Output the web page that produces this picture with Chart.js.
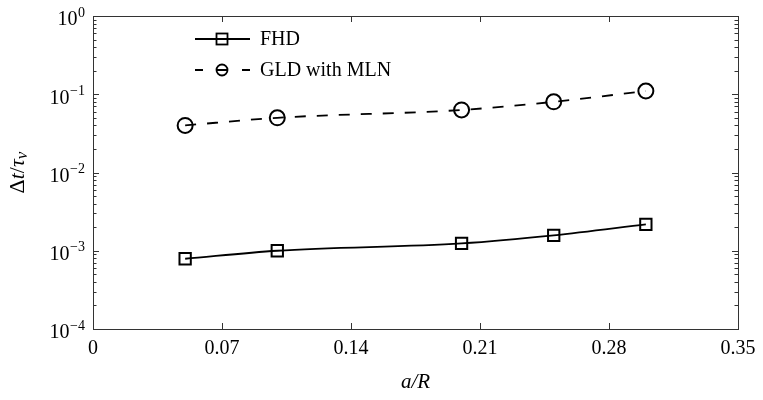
<!DOCTYPE html>
<html>
<head>
<meta charset="utf-8">
<script src="https://cdn.jsdelivr.net/npm/chart.js@4.4.1/dist/chart.umd.min.js"></script>
<style>
    html, body { margin: 0; padding: 0; background: #fff; }
    #wrap { width: 763px; height: 400px; position: relative; }
</style>
</head>
<body>
<div id="wrap"><canvas id="chart"></canvas></div>
<script>
// Data
const aOverR = [0.05, 0.1, 0.2, 0.25, 0.3];
const fhdValues = [7.9e-4, 1.0e-3, 1.24e-3, 1.57e-3, 2.17e-3];
const gldValues = [0.040, 0.050, 0.063, 0.080, 0.110];
const seriesNames = ['FHD', 'GLD with MLN'];

// Axis ticks
const xTickValues = [0, 0.07, 0.14, 0.21, 0.28, 0.35];
const xTickLabels = ['0', '0.07', '0.14', '0.21', '0.28', '0.35'];
const yTickExponents = [0, -1, -2, -3, -4];

const SERIF = '"Liberation Serif", "DejaVu Serif", serif';
const INK = '#000';

function toPoints(xs, ys) {
    return xs.map((x, i) => ({ x: x, y: ys[i] }));
}

// --- Frame, inward ticks, labels, legend ---
const axesPlugin = {
    id: 'paperAxes',
    afterDraw(chart) {
        const ctx = chart.ctx;
        const area = chart.chartArea;
        const xs = chart.scales.x;
        const ys = chart.scales.y;
        ctx.save();

        // frame
        ctx.strokeStyle = '#333';
        ctx.lineWidth = 1;
        ctx.strokeRect(area.left + 0.5, area.top + 0.5, area.right - area.left, area.bottom - area.top);

        // x ticks (bottom & top)
        ctx.beginPath();
        xTickValues.forEach(v => {
            const px = Math.round(xs.getPixelForValue(v)) + 0.5;
            ctx.moveTo(px, area.bottom); ctx.lineTo(px, area.bottom - 6);
            ctx.moveTo(px, area.top); ctx.lineTo(px, area.top + 6);
        });
        // y ticks major + minor (left & right)
        yTickExponents.forEach(e => {
            for (let m = 1; m <= 9; m++) {
                const v = m * Math.pow(10, e - 1);
                if (v < ys.min * 0.999 || v > ys.max * 1.001) continue;
                const len = m === 1 ? 6 : 3.5;
                const py = Math.round(ys.getPixelForValue(v)) + 0.5;
                ctx.moveTo(area.left, py); ctx.lineTo(area.left + len, py);
                ctx.moveTo(area.right, py); ctx.lineTo(area.right - len, py);
            }
        });
        const py0 = Math.round(ys.getPixelForValue(1)) + 0.5;
        ctx.moveTo(area.left, py0); ctx.lineTo(area.left + 6, py0);
        ctx.moveTo(area.right, py0); ctx.lineTo(area.right - 6, py0);
        ctx.stroke();

        ctx.fillStyle = INK;
        ctx.font = '20px ' + SERIF;
        ctx.textAlign = 'center';
        ctx.textBaseline = 'middle';
        xTickValues.forEach((v, i) => {
            ctx.fillText(xTickLabels[i], xs.getPixelForValue(v), area.bottom + 20);
        });

        // y labels: 10^e
        const labelRight = area.left - 8;
        yTickExponents.forEach(e => {
            const py = ys.getPixelForValue(Math.pow(10, e));
            const sup = e < 0 ? '\u2212' + Math.abs(e) : String(e);
            ctx.font = '14px ' + SERIF;
            const ws = ctx.measureText(sup).width;
            ctx.textAlign = 'left';
            ctx.fillText(sup, labelRight - ws, py - 3);
            ctx.font = '20px ' + SERIF;
            ctx.textAlign = 'right';
            ctx.fillText('10', labelRight - ws - 0.5, py + 4);
        });

        // x title
        ctx.textAlign = 'center';
        ctx.font = 'italic 21px ' + SERIF;
        ctx.fillText('a/R', (area.left + area.right) / 2, area.bottom + 53);

        // y title, rotated
        const parts = [
            { t: '\u0394', f: '22px ' + SERIF, dy: 0 },
            { t: 't', f: 'italic 22px ' + SERIF, dy: 0 },
            { t: '/', f: '22px ' + SERIF, dy: 0 },
            { t: '\u03C4', f: 'italic 22px ' + SERIF, dy: 0 },
            { t: '\u03BD', f: 'italic 17px ' + SERIF, dy: 5 }
        ];
        let total = 0;
        parts.forEach(p => { ctx.font = p.f; p.w = ctx.measureText(p.t).width; total += p.w; });
        ctx.translate(18, (area.top + area.bottom) / 2);
        ctx.rotate(-Math.PI / 2);
        ctx.textAlign = 'left';
        let cx = -total / 2;
        parts.forEach(p => { ctx.font = p.f; ctx.fillText(p.t, cx, p.dy); cx += p.w; });
        ctx.setTransform(1, 0, 0, 1, 0, 0);

        // legend
        const lx0 = 195, lx1 = 250, mx = 222, tx = 260;
        const rows = [39, 70];
        ctx.strokeStyle = INK;
        ctx.lineWidth = 1.8;
        ctx.beginPath();
        ctx.moveTo(lx0, rows[0]); ctx.lineTo(lx1, rows[0]);
        ctx.stroke();
        ctx.strokeRect(mx - 5.5, rows[0] - 5.5, 11, 11);
        ctx.beginPath();
        ctx.moveTo(lx0, rows[1]); ctx.lineTo(lx0 + 8, rows[1]);
        ctx.moveTo(lx1 - 8, rows[1]); ctx.lineTo(lx1, rows[1]);
        ctx.moveTo(mx - 5, rows[1]); ctx.lineTo(mx + 5, rows[1]);
        ctx.stroke();
        ctx.beginPath();
        ctx.arc(mx, rows[1], 5.5, 0, Math.PI * 2);
        ctx.stroke();
        ctx.font = '20px ' + SERIF;
        ctx.textAlign = 'left';
        ctx.textBaseline = 'middle';
        ctx.fillText(seriesNames[0], tx, rows[0] + 1);
        ctx.fillText(seriesNames[1], tx, rows[1] + 1);

        ctx.restore();
    }
};

const chart = new Chart(document.getElementById('chart').getContext('2d'), {
    type: 'line',
    data: {
        datasets: [
            {
                label: seriesNames[0],
                data: toPoints(aOverR, fhdValues),
                borderColor: INK,
                borderWidth: 1.8,
                backgroundColor: 'rgba(0,0,0,0)',
                cubicInterpolationMode: 'monotone',
                pointStyle: 'rect',
                pointRadius: 8,
                pointBorderWidth: 2,
                pointBorderColor: INK,
                pointBackgroundColor: 'rgba(0,0,0,0)'
            },
            {
                label: seriesNames[1],
                data: toPoints(aOverR, gldValues),
                borderColor: INK,
                borderWidth: 1.8,
                borderDash: [11, 11],
                backgroundColor: 'rgba(0,0,0,0)',
                cubicInterpolationMode: 'monotone',
                pointStyle: 'circle',
                pointRadius: 7.5,
                pointBorderWidth: 2,
                pointBorderColor: INK,
                pointBackgroundColor: 'rgba(0,0,0,0)'
            }
        ]
    },
    options: {
        responsive: true,
        maintainAspectRatio: false,
        animation: false,
        layout: { padding: { left: 93, right: 25, top: 16, bottom: 71 } },
        plugins: {
            legend: { display: false },
            tooltip: { enabled: false }
        },
        scales: {
            x: {
                type: 'linear',
                display: false,
                min: xTickValues[0],
                max: xTickValues[xTickValues.length - 1]
            },
            y: {
                type: 'logarithmic',
                display: false,
                min: Math.pow(10, yTickExponents[yTickExponents.length - 1]),
                max: Math.pow(10, yTickExponents[0])
            }
        }
    },
    plugins: [axesPlugin]
});
</script>
</body>
</html>
